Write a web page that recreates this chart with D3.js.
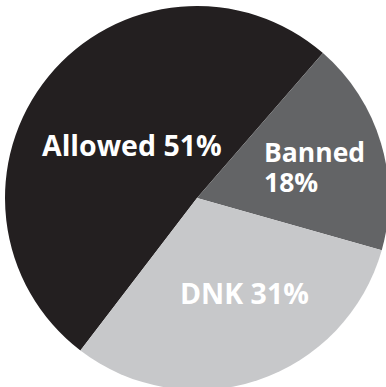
<!DOCTYPE html>
<html>
<head>
<meta charset="utf-8">
<script src="https://cdn.jsdelivr.net/npm/d3@7/dist/d3.min.js"></script>
<style>
  html, body { margin: 0; padding: 0; background: #fff; }
  svg { display: block; }
  text { font-family: "Open Sans", "Noto Sans", sans-serif; font-weight: 700; fill: #fff; }
</style>
</head>
<body>
<svg id="chart" width="386" height="387"></svg>
<script>
// Survey answers, in drawing order (clockwise)
const categories = ["Allowed", "Banned", "DNK"];
const shares = [51, 18, 31];
const colors = ["#231f20", "#636466", "#c7c8ca"];

const svg = d3.select("#chart");
const cx = 197, cy = 198, radius = 192;

const pie = d3.pie()
  .sort(null)
  .value(d => d.value)
  .startAngle(-142.6 * Math.PI / 180)
  .endAngle((360 - 142.6) * Math.PI / 180);

const data = categories.map((c, i) => ({ name: c, value: shares[i], color: colors[i] }));
const arcs = pie(data);
const arc = d3.arc().innerRadius(0).outerRadius(radius);

const g = svg.append("g").attr("transform", `translate(${cx},${cy})`);

g.selectAll("path.slice")
  .data(arcs)
  .join("path")
  .attr("class", "slice")
  .attr("d", arc)
  .attr("fill", d => d.data.color);

// Label placement relative to the pie centre
const labelLayout = {
  Allowed: { x: -155, y: -42, size: 28.5, lines: d => [`${d.name} ${d.value}%`] },
  Banned:  { x: 67,   y: -36, size: 26.5, lines: d => [d.name, `${d.value}%`] },
  DNK:     { x: -17,  y: 106, size: 28.5, lines: d => [`${d.name} ${d.value}%`] }
};

arcs.forEach(a => {
  const L = labelLayout[a.data.name];
  const t = g.append("text")
    .attr("x", L.x)
    .attr("y", L.y)
    .style("font-size", L.size + "px");
  L.lines(a.data).forEach((line, i) => {
    t.append("tspan")
      .attr("x", L.x)
      .attr("dy", i === 0 ? 0 : 30)
      .text(line);
  });
});
</script>
</body>
</html>
